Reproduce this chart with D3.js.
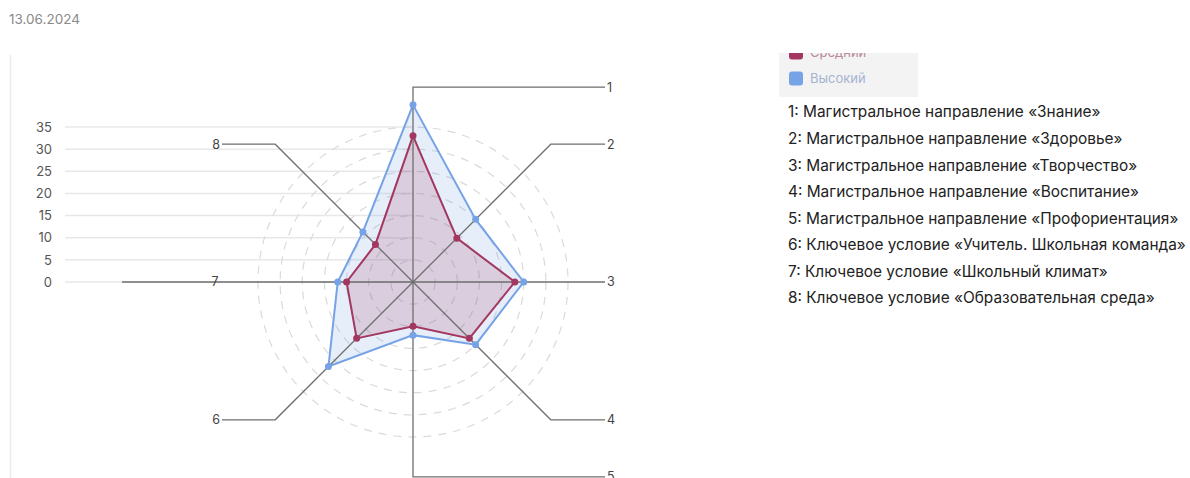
<!DOCTYPE html>
<html>
<head>
<meta charset="utf-8">
<script src="https://cdn.jsdelivr.net/npm/d3@7"></script>
<style>
  body { margin: 0; background: #fff; font-family: Inter, "Noto Sans", sans-serif; }
  svg { display: block; }
</style>
</head>
<body>
<div id="stage"></div>
<script>
const dateLabel = "13.06.2024";
const axisNames = ["1", "2", "3", "4", "5", "6", "7", "8"];
const seriesNames = ["Средний", "Высокий"];
const seriesColors = ["#a3375f", "#76a2e6"];
const midValues = [33, 14, 23, 18, 10, 18, 15, 12];
const highValues = [40, 20, 25, 20, 12, 27, 17, 16];
const yTicks = [0, 5, 10, 15, 20, 25, 30, 35];
const legendLines = [
  "1: Магистральное направление «Знание»",
  "2: Магистральное направление «Здоровье»",
  "3: Магистральное направление «Творчество»",
  "4: Магистральное направление «Воспитание»",
  "5: Магистральное направление «Профориентация»",
  "6: Ключевое условие «Учитель. Школьная команда»",
  "7: Ключевое условие «Школьный климат»",
  "8: Ключевое условие «Образовательная среда»"
];

const W = 1190, H = 478;
const cx = 413, cy = 282;

const svg = d3.select("#stage").append("svg")
  .attr("width", W)
  .attr("height", H);

svg.append("text")
  .attr("x", 9).attr("y", 24)
  .attr("font-size", 13.5).attr("fill", "#8a8a8a")
  .text(dateLabel);

svg.append("line")
  .attr("x1", 10.5).attr("x2", 10.5)
  .attr("y1", 55).attr("y2", H)
  .attr("stroke", "#ececec").attr("stroke-width", 1.5);

const r = d3.scaleLinear().domain([0, 35]).range([0, 155]);
const y = d3.scaleLinear().domain([0, 35]).range([cy, cy - r(35)]);
const angle = d3.scaleLinear().domain([0, axisNames.length]).range([0, 2 * Math.PI]);

const pt = (i, v) => {
  const a = angle(i);
  return [cx + r(v) * Math.sin(a), cy - r(v) * Math.cos(a)];
};

// horizontal grid of the left axis
svg.append("g").selectAll("line")
  .data(yTicks)
  .join("line")
  .attr("x1", 65).attr("x2", cx)
  .attr("y1", d => y(d)).attr("y2", d => y(d))
  .attr("stroke", "#e8e8e8").attr("stroke-width", 1.5);

const yAxis = svg.append("g")
  .attr("transform", "translate(52,0)")
  .call(d3.axisLeft(y).tickValues(yTicks).tickSize(0).tickPadding(0));
yAxis.select(".domain").remove();
yAxis.selectAll("text")
  .attr("font-size", 13).attr("fill", "#555")
  .attr("font-family", "Inter, 'Noto Sans', sans-serif");

// dashed rings
svg.append("g").selectAll("circle")
  .data(yTicks.slice(1))
  .join("circle")
  .attr("cx", cx).attr("cy", cy)
  .attr("r", d => r(d))
  .attr("fill", "none")
  .attr("stroke", "#dadada")
  .attr("stroke-width", 1.2)
  .attr("stroke-dasharray", "8,7");

// series polygons
const radar = d3.line().curve(d3.curveLinearClosed);
const series = [highValues, midValues];
const seriesCol = [seriesColors[1], seriesColors[0]];
const seriesFill = ["rgba(118,162,230,0.18)", "rgba(163,55,95,0.18)"];

series.forEach((vals, k) => {
  svg.append("path")
    .attr("d", radar(vals.map((v, i) => pt(i, v))))
    .attr("fill", seriesFill[k])
    .attr("stroke", seriesCol[k])
    .attr("stroke-width", 2);
});

// spokes with elbows
const spokeR = 44;
const rightX = 605, leftX = 222;
const spokes = axisNames.map((name, i) => {
  const end = pt(i, spokeR);
  const a = angle(i);
  let pts, lx, anchor;
  if (i === 2) {
    pts = [[cx, cy], [rightX, cy]];
    lx = rightX + 2; anchor = "start";
  } else if (i === 6) {
    pts = [[cx, cy], [122, cy]];
    lx = 215; anchor = "middle";
  } else if (Math.sin(a) >= -0.01) {
    pts = [[cx, cy], end, [rightX, end[1]]];
    lx = rightX + 2; anchor = "start";
  } else {
    pts = [[cx, cy], end, [leftX, end[1]]];
    lx = leftX - 2; anchor = "end";
  }
  return { name, pts, lx, ly: pts[pts.length - 1][1], anchor };
});

svg.append("g").selectAll("path")
  .data(spokes)
  .join("path")
  .attr("d", d => d3.line()(d.pts))
  .attr("fill", "none")
  .attr("stroke", "#6e6e6e")
  .attr("stroke-width", 1.3);

svg.append("g").selectAll("text")
  .data(spokes)
  .join("text")
  .attr("x", d => d.lx).attr("y", d => d.ly)
  .attr("dy", "0.35em")
  .attr("text-anchor", d => d.anchor)
  .attr("font-size", 12.5).attr("fill", "#444")
  .text(d => d.name);

// points
series.forEach((vals, k) => {
  svg.append("g").selectAll("circle")
    .data(vals)
    .join("circle")
    .attr("cx", (v, i) => pt(i, v)[0])
    .attr("cy", (v, i) => pt(i, v)[1])
    .attr("r", 3.5)
    .attr("fill", seriesCol[k]);
});

// legend box (clipped at the top as in the source)
svg.append("clipPath").attr("id", "legclip")
  .append("rect").attr("x", 779).attr("y", 53).attr("width", 139).attr("height", 44);

const leg = svg.append("g").attr("clip-path", "url(#legclip)");
leg.append("rect")
  .attr("x", 779).attr("y", 30).attr("width", 139).attr("height", 67)
  .attr("fill", "#f3f3f4");
const legY = d3.scalePoint().domain(seriesNames).range([52, 78]);
seriesNames.forEach((name, k) => {
  leg.append("rect")
    .attr("x", 789).attr("y", legY(name) - 6.5)
    .attr("width", 14).attr("height", 14).attr("rx", 3)
    .attr("fill", seriesColors[k]);
  leg.append("text")
    .attr("x", 810).attr("y", legY(name))
    .attr("dy", "0.35em")
    .attr("font-size", 13)
    .attr("fill", k === 0 ? "#b88a9c" : "#a6b4d0")
    .text(name);
});

// category list
const listY = d3.scaleLinear().domain([0, 7]).range([112, 298]);
svg.append("g").selectAll("text")
  .data(legendLines)
  .join("text")
  .attr("x", 788).attr("y", (d, i) => listY(i))
  .attr("dy", "0.35em")
  .attr("font-size", 15.4).attr("fill", "#222")
  .text(d => d);
</script>
</body>
</html>
